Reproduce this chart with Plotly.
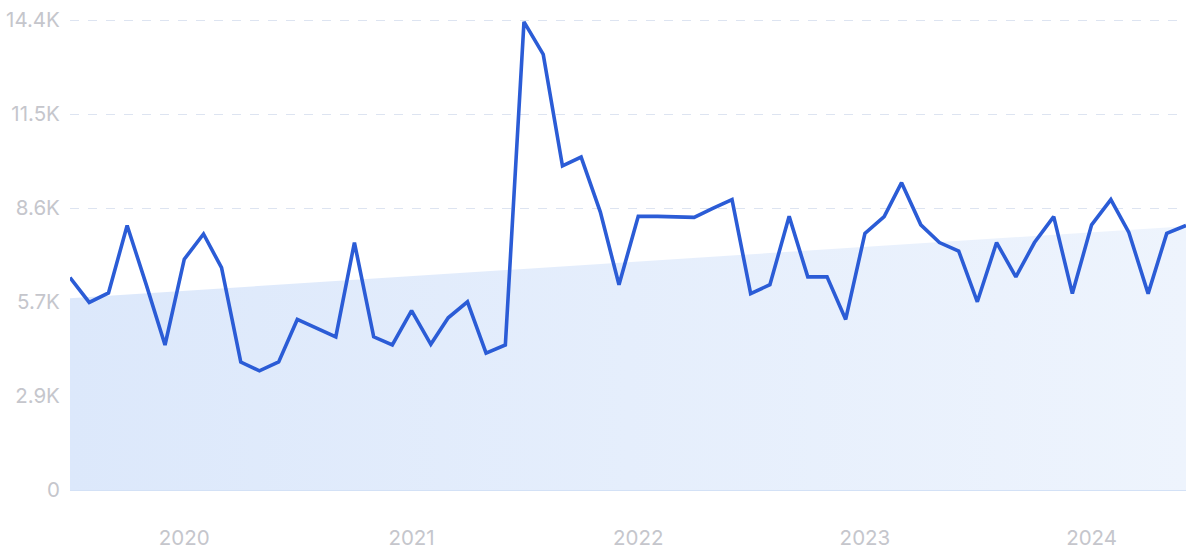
import plotly.graph_objects as go
import pandas as pd

# Monthly values, Jul 2019 - Jun 2024
months = pd.date_range("2019-07-01", "2024-06-01", freq="MS")
values = [
    6490, 5730, 6020, 8080, 6260, 4430,             # 2019 Jul-Dec
    7050, 7820, 6790, 3910, 3640, 3910,             # 2020 Jan-Jun
    5210, 4940, 4680, 7560, 4680, 4430,             # 2020 Jul-Dec
    5480, 4450, 5260, 5750, 4180, 4430,             # 2021 Jan-Jun
    14300, 13310, 9900, 10170, 8490, 6270,          # 2021 Jul-Dec
    8360, 8360, 8350, 8330, 8600, 8870,             # 2022 Jan-Jun
    6000, 6270, 8360, 6510, 6510, 5210,             # 2022 Jul-Dec
    7840, 8350, 9390, 8100, 7560, 7300,             # 2023 Jan-Jun
    5750, 7560, 6510, 7560, 8350, 6000,             # 2023 Jul-Dec
    8100, 8870, 7870, 6000, 7840, 8080,             # 2024 Jan-Jun
]

# Trend band endpoints (start / end)
trend_x = [months[0], months[-1]]
trend_y = [5860, 8060]

y_tickvals = [0, 2870, 5740, 8610, 11480, 14350]
y_ticktext = ["0", "2.9K", "5.7K", "8.6K", "11.5K", "14.4K"]
x_tickvals = ["2020-01-01", "2021-01-01", "2022-01-01", "2023-01-01", "2024-01-01"]
x_ticktext = ["2020", "2021", "2022", "2023", "2024"]

fig = go.Figure()

fig.add_trace(go.Scatter(
    x=trend_x, y=trend_y, mode="lines",
    line=dict(width=0, color="rgba(0,0,0,0)"),
    fill="tozeroy",
    fillgradient=dict(
        type="horizontal",
        colorscale=[[0, "#dce8fb"], [1, "#eef4fd"]],
    ),
    hoverinfo="skip", showlegend=False,
))

fig.add_trace(go.Scatter(
    x=months, y=values, mode="lines",
    line=dict(color="#2b5cd6", width=3.6),
    showlegend=False,
    cliponaxis=False,
))

font_color = "#c5c6cc"
fig.update_layout(
    width=1200, height=556,
    margin=dict(l=70, r=14, t=17, b=66),
    paper_bgcolor="white", plot_bgcolor="white",
    font=dict(family="Inter, Roboto, sans-serif", size=20.5, color=font_color),
    showlegend=False,
)
fig.update_xaxes(
    range=[months[0], months[-1]],
    tickvals=x_tickvals, ticktext=x_ticktext,
    showgrid=False, zeroline=False, showline=False,
    ticks="outside", ticklen=29, tickcolor="rgba(0,0,0,0)",
    tickfont=dict(size=20.5, color=font_color),
    automargin=False,
)
fig.update_yaxes(
    range=[0, 14450],
    tickvals=y_tickvals, ticktext=y_ticktext,
    showgrid=True, gridcolor="#dde4f1", griddash="dash", gridwidth=1,
    zeroline=True, zerolinecolor="#d3e1f6", zerolinewidth=1.5,
    showline=False,
    ticks="outside", ticklen=5, tickcolor="rgba(0,0,0,0)",
    tickfont=dict(size=20.5, color=font_color),
    ticklabeloverflow="allow",
    automargin=False,
)

fig.write_html(
    "out.html",
    config={"displayModeBar": False},
    post_script="document.body.style.margin='0';",
)
